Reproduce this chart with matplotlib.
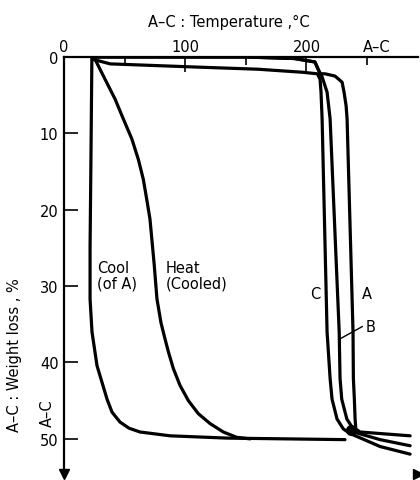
import matplotlib
matplotlib.use("Agg")
from matplotlib import pyplot as plt

# weight loss curves (temperature degC, weight loss %)
cool_T = [23.0, 22.3, 21.5, 21.5, 23.1, 27.2, 35.5, 39.6, 46.2, 53.6, 62.7, 87.5, 134.5, 231.8]
cool_W = [0.0, 12.0, 25.0, 31.7, 36.0, 40.4, 44.8, 46.5, 47.8, 48.6, 49.1, 49.6, 49.9, 50.1]

heat_T = [23.9, 25.6, 33.8, 42.1, 48.9, 55.9, 61.3, 65.4, 68.2, 70.9, 72.6, 74.3, 76.7,
          80.0, 83.3, 86.1, 90.2, 95.7, 102.6, 110.8, 120.5, 131.4, 142.5, 153.5]
heat_W = [0.0, 0.3, 2.9, 5.5, 8.1, 10.7, 13.4, 16.0, 18.6, 21.2, 24.1, 27.0, 31.7,
          34.8, 36.9, 38.6, 40.8, 43.0, 45.0, 46.7, 48.0, 49.1, 49.8, 50.0]

a_T = [23.9, 150.0, 190.0, 207.0, 209.6, 211.5, 215.3, 223.6, 229.4, 231.0, 232.7, 233.5,
       238.4, 238.7, 239.5, 240.1, 240.7, 244.2, 260.7, 285.5]
a_W = [0.0, 0.0, 0.2, 0.65, 1.6, 2.2, 2.2, 2.5, 3.3, 4.6, 6.4, 8.1,
       36.0, 42.1, 44.8, 47.4, 48.7, 49.1, 49.3, 49.6]

b_T = [23.9, 150.0, 190.0, 207.0, 209.6, 211.5, 212.9, 217.0, 219.5, 227.0, 227.7, 229.1,
       233.3, 237.4, 241.0, 260.7, 285.5]
b_W = [0.0, 0.0, 0.2, 0.65, 1.6, 2.2, 2.6, 4.6, 8.1, 36.0, 42.1, 44.8,
       47.4, 48.4, 49.2, 50.1, 50.9]

c_T = [23.9, 38.0, 106.0, 160.0, 197.0, 209.0, 211.2, 212.0, 212.9, 217.0, 219.5, 221.1,
       225.2, 230.4, 236.0, 260.7, 285.5]
c_W = [0.3, 0.9, 1.3, 1.6, 2.0, 2.2, 2.9, 4.6, 8.1, 36.0, 42.1, 44.8,
       47.4, 48.7, 49.3, 51.0, 52.0]

dot_T, dot_W = 236.6, 48.9

x_major = [0, 100, 200]
x_minor = [50, 150, 250]
y_ticks = [0, 10, 20, 30, 40, 50]

fig = plt.figure(figsize=(4.2, 4.81), dpi=100)
ax = fig.add_axes([64 / 420, 1 - 475 / 481, (418 - 64) / 420, (475 - 58) / 481])
ax.set_xlim(0, 292)
ax.set_ylim(54.6, 0)

lw = 2.3
for T, W in [(cool_T, cool_W), (heat_T, heat_W), (a_T, a_W), (b_T, b_W), (c_T, c_W)]:
    ax.plot(T, W, color="black", lw=lw, solid_capstyle="round", solid_joinstyle="round")
ax.plot(dot_T, dot_W, "o", color="black", ms=7)

# B leader line
ax.plot([227.7, 246.0], [36.9, 35.3], color="black", lw=1.0)

for s in ["right", "bottom"]:
    ax.spines[s].set_visible(False)
for s in ["top", "left"]:
    ax.spines[s].set_linewidth(1.6)

ax.xaxis.tick_top()
ax.set_xticks(x_major)
ax.set_xticks(x_minor, minor=True)
ax.set_xticklabels(["0", "100", "200"], fontsize=10.5)
ax.tick_params(axis="x", which="major", direction="in", length=11, width=1.2, pad=2)
ax.tick_params(axis="x", which="minor", direction="in", length=5.5, width=1.2)
ax.set_yticks(y_ticks)
ax.set_yticklabels([str(v) for v in y_ticks], fontsize=10.5)
ax.tick_params(axis="y", direction="in", length=10, width=1.2, pad=4)

# axis arrows
ax.plot(1, 0, ">", color="black", ms=7, transform=ax.transAxes, clip_on=False)
ax.plot(0, 0, "v", color="black", ms=7, transform=ax.transAxes, clip_on=False)

# labels
fig.text(229 / 420, 1 - 22 / 481, "A\u2013C : Temperature ,\u00b0C", ha="center", va="center", fontsize=10.5)
fig.text(377 / 420, 1 - 47 / 481, "A\u2013C", ha="center", va="center", fontsize=10.5)
fig.text(15 / 420, 1 - 355 / 481, "A\u2013C : Weight loss , %", ha="center", va="center",
         rotation=90, fontsize=10.5)
fig.text(47 / 420, 1 - 413 / 481, "A\u2013C", ha="center", va="center", rotation=90, fontsize=10.5)

ax.text(27, 28.6, "Cool\n(of A)", ha="left", va="center", fontsize=10.5, linespacing=1.0)
ax.text(84, 28.6, "Heat\n(Cooled)", ha="left", va="center", fontsize=10.5, linespacing=1.0)
ax.text(207, 31.0, "C", ha="center", va="center", fontsize=10.5)
ax.text(250, 31.0, "A", ha="center", va="center", fontsize=10.5)
ax.text(253, 35.3, "B", ha="center", va="center", fontsize=10.5)

fig.savefig("out.png", dpi=100)
